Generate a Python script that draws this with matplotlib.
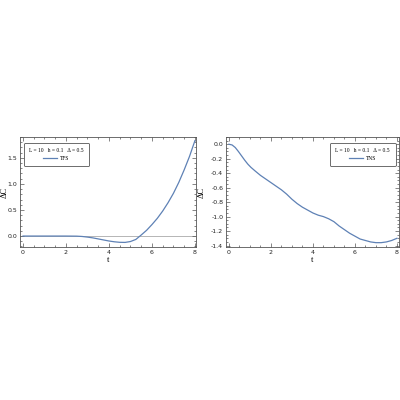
import matplotlib
matplotlib.use("Agg")
import matplotlib.pyplot as plt
from matplotlib.ticker import MultipleLocator

# left panel (TFS)
t_tfs = [0, 0.5, 1, 1.5, 2, 2.5, 2.75, 3, 3.25, 3.5, 3.75, 4, 4.25, 4.5, 4.75,
         5, 5.25, 5.5, 5.75, 6, 6.25, 6.5, 6.75, 7, 7.25, 7.5, 7.75, 8]
dc_tfs = [0, 0, 0, 0, 0, -0.002, -0.008, -0.02, -0.035, -0.055, -0.075, -0.095,
          -0.11, -0.12, -0.122, -0.105, -0.065, 0.02, 0.11, 0.22, 0.34, 0.48,
          0.64, 0.82, 1.03, 1.27, 1.53, 1.83]

# right panel (TNS)
t_tns = [0, 0.15, 0.3, 0.45, 0.6, 0.75, 0.9, 1.05, 1.25, 1.5, 1.75, 2, 2.25,
         2.5, 2.75, 3, 3.25, 3.5, 3.75, 4, 4.25, 4.5, 4.75, 5, 5.25, 5.5,
         5.75, 6, 6.25, 6.5, 6.75, 7, 7.25, 7.5, 7.75, 8]
dc_tns = [0, -0.01, -0.045, -0.10, -0.16, -0.22, -0.275, -0.32, -0.37, -0.43,
          -0.48, -0.53, -0.58, -0.63, -0.69, -0.76, -0.82, -0.87, -0.91, -0.95,
          -0.98, -1.00, -1.03, -1.07, -1.13, -1.18, -1.23, -1.27, -1.31, -1.33,
          -1.35, -1.36, -1.36, -1.35, -1.33, -1.30]

legend_title = "L = 10   h = 0.1   Δ = 0.5"
line_col = "#5E81B5"
frame_col = "#555555"

fig = plt.figure(figsize=(4, 4), dpi=100)
ax1 = fig.add_axes([0.05, 0.3825, 0.44, 0.275])
ax2 = fig.add_axes([0.565, 0.3825, 0.4325, 0.275])


def style(ax, ymaj, ymin, ylab_x):
    ax.xaxis.set_major_locator(MultipleLocator(2))
    ax.xaxis.set_minor_locator(MultipleLocator(0.5))
    ax.yaxis.set_major_locator(MultipleLocator(ymaj))
    ax.yaxis.set_minor_locator(MultipleLocator(ymin))
    ax.tick_params(which='both', direction='in', top=True, right=True,
                   colors=frame_col, labelcolor='#222222', width=0.5)
    ax.tick_params(which='major', length=3, labelsize=4.5, pad=2)
    ax.tick_params(which='minor', length=1.5)
    for s in ax.spines.values():
        s.set_color(frame_col)
        s.set_linewidth(0.6)
    ax.set_xlabel('t', fontsize=6, family='Liberation Serif', labelpad=1)
    ax.set_ylabel('ΔC', fontsize=6, family='Liberation Serif')
    ax.yaxis.set_label_coords(ylab_x, 0.5)


ax1.axhline(0, color='#aaaaaa', lw=0.6, zorder=1)
ax1.plot(t_tfs, dc_tfs, color=line_col, lw=0.9, label='TFS', zorder=2)
ax1.set_xlim(-0.14, 8.05)
ax1.set_ylim(-0.21, 1.90)
style(ax1, 0.5, 0.1, -0.065)
ax1.set_yticklabels([f"{v:.1f}" for v in ax1.get_yticks()])

ax2.plot(t_tns, dc_tns, color=line_col, lw=0.9, label='TNS')
ax2.set_xlim(-0.14, 8.1)
ax2.set_ylim(-1.42, 0.10)
style(ax2, 0.2, 0.05, -0.12)
ax2.set_yticklabels([f"{v:.1f}" for v in ax2.get_yticks()])

for ax, loc, anchor in [(ax1, 'upper left', (0.02, 0.95)),
                        (ax2, 'upper right', (0.98, 0.95))]:
    leg = ax.legend(loc=loc, bbox_to_anchor=anchor, title=legend_title,
                    prop={'family': 'Liberation Serif', 'size': 4},
                    title_fontproperties={'family': 'Liberation Serif', 'size': 4},
                    fancybox=True, framealpha=1, edgecolor=frame_col,
                    handlelength=2.5, borderpad=1.0, handletextpad=0.5,
                    borderaxespad=0)
    leg.get_frame().set_linewidth(0.6)

fig.savefig('out.png', dpi=100)
